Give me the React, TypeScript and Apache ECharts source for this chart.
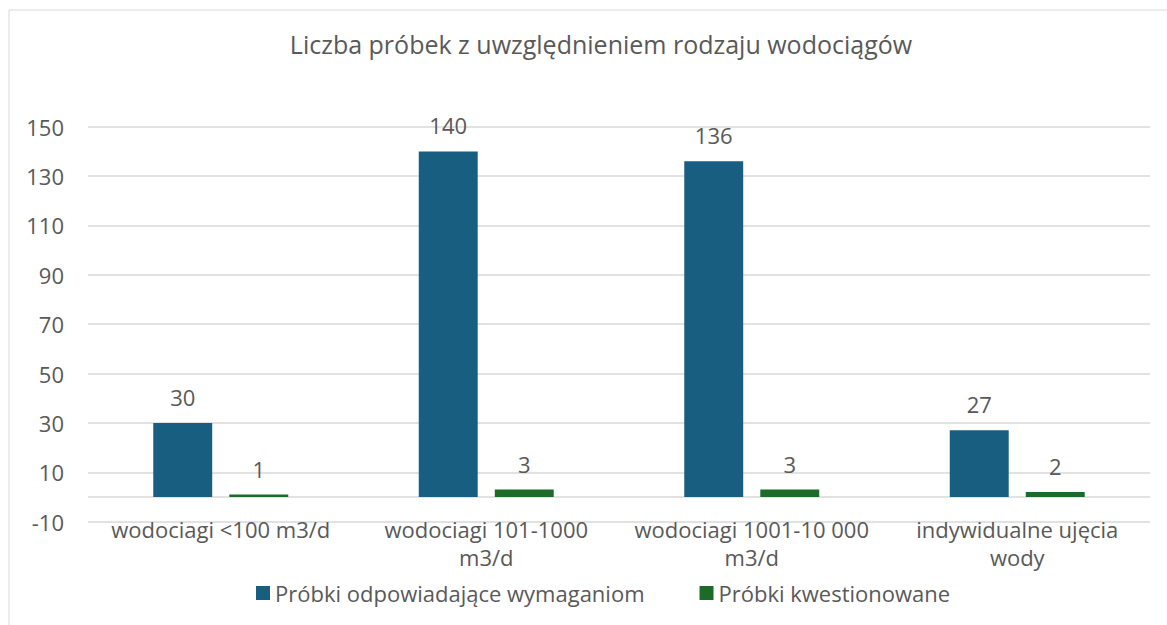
import React, { useEffect, useRef } from "react";
import * as echarts from "echarts";

const categories = [
  "wodociagi <100 m3/d",
  "wodociagi 101-1000 m3/d",
  "wodociagi 1001-10 000 m3/d",
  "indywidualne ujęcia wody",
];
const seriesNames = ["Próbki odpowiadające wymaganiom", "Próbki kwestionowane"];
const compliant = [30, 140, 136, 27];
const questioned = [1, 3, 3, 2];
const titleText = "Liczba próbek z uwzględnieniem rodzaju wodociągów";

const FONT = "'Open Sans', 'Liberation Sans', Arial, sans-serif";
const TXT = "#595959";
const FS = 22;

const wrapLabel = (v: string) => (v.length > 20 ? v.replace(/ (\S+)$/, "\n$1") : v);

export default function App() {
  const ref = useRef<HTMLDivElement>(null);
  useEffect(() => {
    document.body.style.margin = "0";
    const chart = echarts.init(ref.current!, undefined, { renderer: "svg" });
    chart.setOption({
      animation: false,
      textStyle: { fontFamily: FONT },
      title: {
        text: titleText,
        left: 596,
        textAlign: "center",
        top: 26,
        textStyle: { fontFamily: FONT, fontSize: 25, fontWeight: "normal", color: TXT },
      },
      graphic: [
        {
          type: "rect",
          shape: { x: 9, y: 10, width: 1200, height: 700 },
          style: { fill: "none", stroke: "#d9d9d9", lineWidth: 1 },
          silent: true,
        },
      ],
      legend: {
        left: 251,
        top: 577,
        icon: "rect",
        itemWidth: 14,
        itemHeight: 14,
        itemGap: 55,
        textStyle: { fontFamily: FONT, fontSize: FS, color: TXT },
        data: seriesNames,
      },
      grid: { left: 88, right: 17, top: 126.7, bottom: 103.3, containLabel: false },
      xAxis: {
        type: "category",
        data: categories,
        axisLine: { show: false, onZero: false },
        axisTick: { show: false },
        axisLabel: {
          color: TXT,
          fontSize: FS,
          fontFamily: FONT,
          margin: -7,
          lineHeight: 28,
          interval: 0,
          formatter: wrapLabel,
        },
      },
      yAxis: {
        type: "value",
        min: -10,
        max: 150,
        interval: 20,
        axisLine: { show: false },
        axisTick: { show: false },
        axisLabel: { color: TXT, fontSize: FS, fontFamily: FONT, margin: 24 },
        splitLine: { lineStyle: { color: "#d9d9d9", width: 1.5 } },
      },
      series: [
        {
          name: seriesNames[0],
          type: "bar",
          data: compliant,
          barWidth: "22.2%",
          barGap: "29%",
          itemStyle: { color: "#175e80" },
          label: {
            show: true,
            position: "top",
            distance: 15,
            color: TXT,
            fontSize: FS,
            fontFamily: FONT,
          },
          markLine: {
            silent: true,
            symbol: "none",
            label: { show: false },
            lineStyle: { color: "#d9d9d9", type: "solid", width: 1.5 },
            data: [{ yAxis: 0 }],
            z: 1,
          },
        },
        {
          name: seriesNames[1],
          type: "bar",
          data: questioned,
          barWidth: "22.2%",
          itemStyle: { color: "#1d6b28" },
          label: {
            show: true,
            position: "top",
            distance: 15,
            color: TXT,
            fontSize: FS,
            fontFamily: FONT,
          },
        },
      ],
    });
    return () => chart.dispose();
  }, []);
  return <div ref={ref} style={{ width: 1167, height: 625 }} />;
}
